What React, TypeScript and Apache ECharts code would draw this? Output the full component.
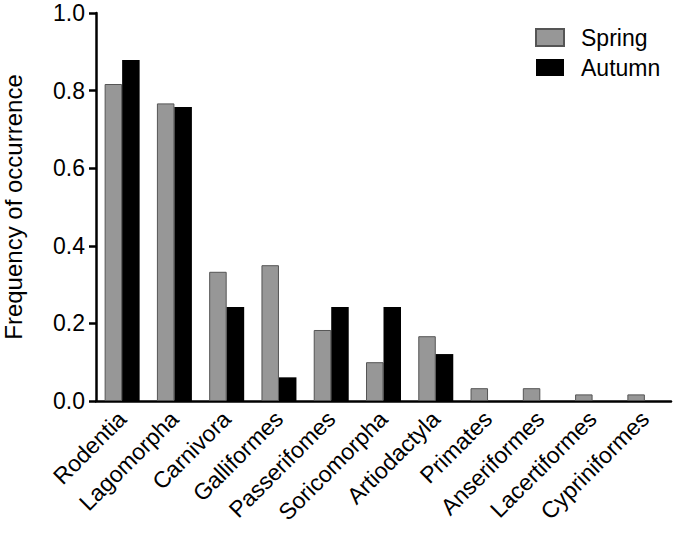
import React, { useEffect, useRef } from "react";
import * as echarts from "echarts";

const categories = [
  "Rodentia", "Lagomorpha", "Carnivora", "Galliformes", "Passerifomes",
  "Soricomorpha", "Artiodactyla", "Primates", "Anseriformes", "Lacertiformes", "Cypriniformes",
];
const spring = [0.817, 0.767, 0.333, 0.35, 0.183, 0.1, 0.167, 0.033, 0.033, 0.017, 0.017];
const autumn = [0.879, 0.758, 0.242, 0.061, 0.242, 0.242, 0.121, 0, 0, 0, 0];
const yTicks = { min: 0, max: 1, interval: 0.2 };

const FONT = "'Liberation Sans', Arial, sans-serif";

export default function App() {
  const ref = useRef<HTMLDivElement>(null);
  useEffect(() => {
    const chart = echarts.init(ref.current!, null, { renderer: "svg" });
    chart.setOption({
      animation: false,
      textStyle: { fontFamily: FONT },
      grid: {
        left: 96, top: 13, right: 4, bottom: 137,
        containLabel: false, outerBoundsMode: "none",
      },
      legend: {
        orient: "vertical",
        left: 535,
        top: 26,
        padding: 0,
        itemWidth: 28,
        itemHeight: 17,
        itemGap: 7,
        icon: "rect",
        textStyle: {
          fontSize: 23, lineHeight: 23, color: "#000", fontFamily: FONT, padding: [0, 0, 0, 12],
        },
        data: ["Spring", "Autumn"],
      },
      xAxis: {
        type: "category",
        data: categories,
        axisLine: { lineStyle: { color: "#000", width: 2.5 } },
        axisTick: { alignWithLabel: true, length: 7, lineStyle: { color: "#000", width: 2.5 } },
        axisLabel: { rotate: 45, fontSize: 23, color: "#000", margin: 14, fontFamily: FONT, interval: 0 },
      },
      yAxis: {
        type: "value",
        min: yTicks.min,
        max: yTicks.max,
        interval: yTicks.interval,
        name: "Frequency of occurrence",
        nameLocation: "middle",
        nameGap: 71,
        nameTextStyle: { fontSize: 24, color: "#000", fontFamily: FONT },
        splitLine: { show: false },
        axisLine: { show: true, lineStyle: { color: "#000", width: 2.5 } },
        axisTick: { show: true, length: 7, lineStyle: { color: "#000", width: 2.5 } },
        axisLabel: {
          fontSize: 23, lineHeight: 22, color: "#000", margin: 11, fontFamily: FONT,
          formatter: (v: number) => v.toFixed(1),
        },
      },
      series: [
        {
          name: "Spring",
          type: "bar",
          data: spring,
          barWidth: 17.5,
          barGap: "0%",
          itemStyle: { color: "#979797", borderColor: "#555555", borderWidth: 1 },
        },
        {
          name: "Autumn",
          type: "bar",
          data: autumn,
          barWidth: 17.5,
          barGap: "0%",
          itemStyle: { color: "#000000", borderWidth: 0 },
        },
      ],
    });
    return () => chart.dispose();
  }, []);
  return (
    <div
      ref={ref}
      style={{ position: "fixed", left: 0, top: 0, width: 675, height: 538, background: "#fff" }}
    />
  );
}
